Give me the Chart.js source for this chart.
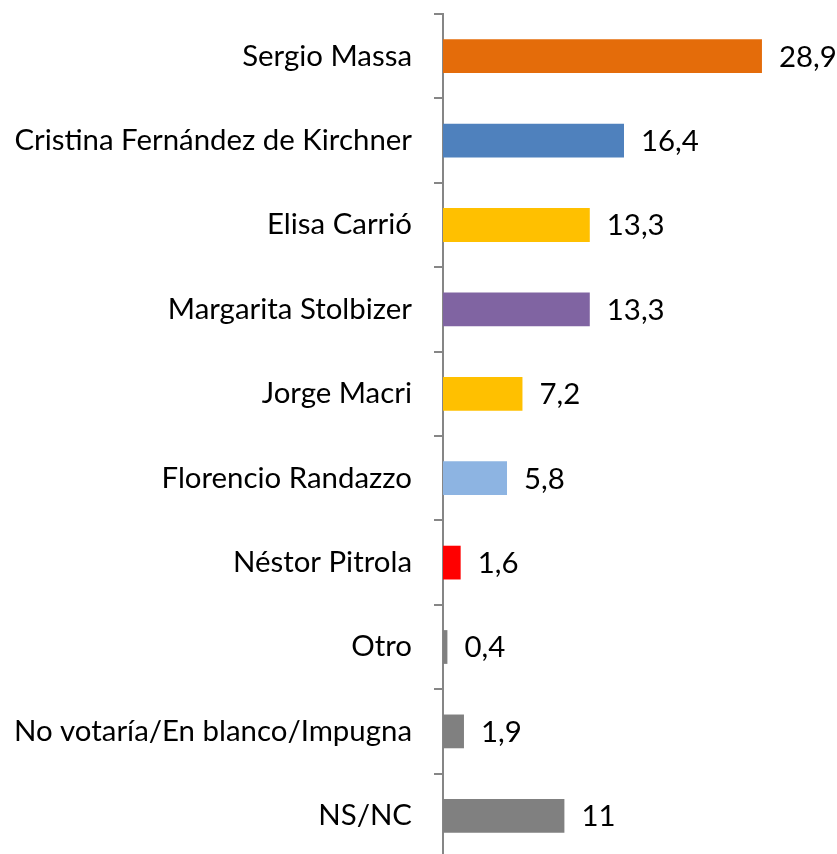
<!DOCTYPE html>
<html>
<head>
<meta charset="utf-8">
<script src="https://cdn.jsdelivr.net/npm/chart.js@4"></script>
<style>
  html, body { margin: 0; padding: 0; background: #fff; overflow: hidden; }
  #wrap { width: 837px; height: 858px; position: relative; }
</style>
</head>
<body>
<div id="wrap"><canvas id="grafica"></canvas></div>
<script>
const candidatos = ["Sergio Massa", "Cristina Fernández de Kirchner", "Elisa Carrió", "Margarita Stolbizer",
  "Jorge Macri", "Florencio Randazzo", "Néstor Pitrola", "Otro", "No votaría/En blanco/Impugna", "NS/NC"];
const porcentajes = [28.9, 16.4, 13.3, 13.3, 7.2, 5.8, 1.6, 0.4, 1.9, 11];
const colores = ["#E46C0A", "#4F81BD", "#FFC000", "#8064A2", "#FFC000", "#8DB4E2", "#FF0000", "#808080", "#808080", "#808080"];

const fuente = "Lato";
const tamano = 29.4;

// etiquetas de valor al final de cada barra
const etiquetas = {
  id: "etiquetas",
  afterDatasetsDraw(chart) {
    const ctx = chart.ctx;
    const meta = chart.getDatasetMeta(0);
    ctx.save();
    ctx.font = tamano + "px " + fuente;
    ctx.fillStyle = "#000";
    ctx.textAlign = "left";
    ctx.textBaseline = "middle";
    meta.data.forEach((barra, i) => {
      const txt = String(porcentajes[i]).replace(".", ",");
      ctx.fillText(txt, barra.x + 17, barra.y + 1);
    });
    ctx.restore();
  }
};

Chart.defaults.color = "#000";
Chart.defaults.font.family = fuente;

let miGrafica = document.getElementById("grafica").getContext("2d");
let chart = new Chart(miGrafica, {
  type: "bar",
  data: {
    labels: candidatos,
    datasets: [{
      data: porcentajes,
      backgroundColor: colores,
      barPercentage: 0.4,
      categoryPercentage: 1
    }]
  },
  options: {
    indexAxis: "y",
    responsive: true,
    maintainAspectRatio: false,
    animation: false,
    layout: { padding: { top: 14, left: 0, right: 0, bottom: 0 } },
    plugins: { legend: { display: false }, tooltip: { enabled: false } },
    scales: {
      x: { display: false, min: 0, max: 35.7 },
      y: {
        afterFit: (escala) => {
          escala.width = 443;
          escala.paddingTop = 0;
          escala.paddingBottom = 0;
        },
        border: { display: true, color: "#868686", width: 2 },
        grid: { drawOnChartArea: false, drawTicks: true, tickLength: 9, color: "#868686", lineWidth: 2 },
        ticks: { padding: 22, font: { size: tamano, family: fuente }, color: "#000" }
      }
    }
  },
  plugins: [etiquetas]
});
</script>
</body>
</html>
